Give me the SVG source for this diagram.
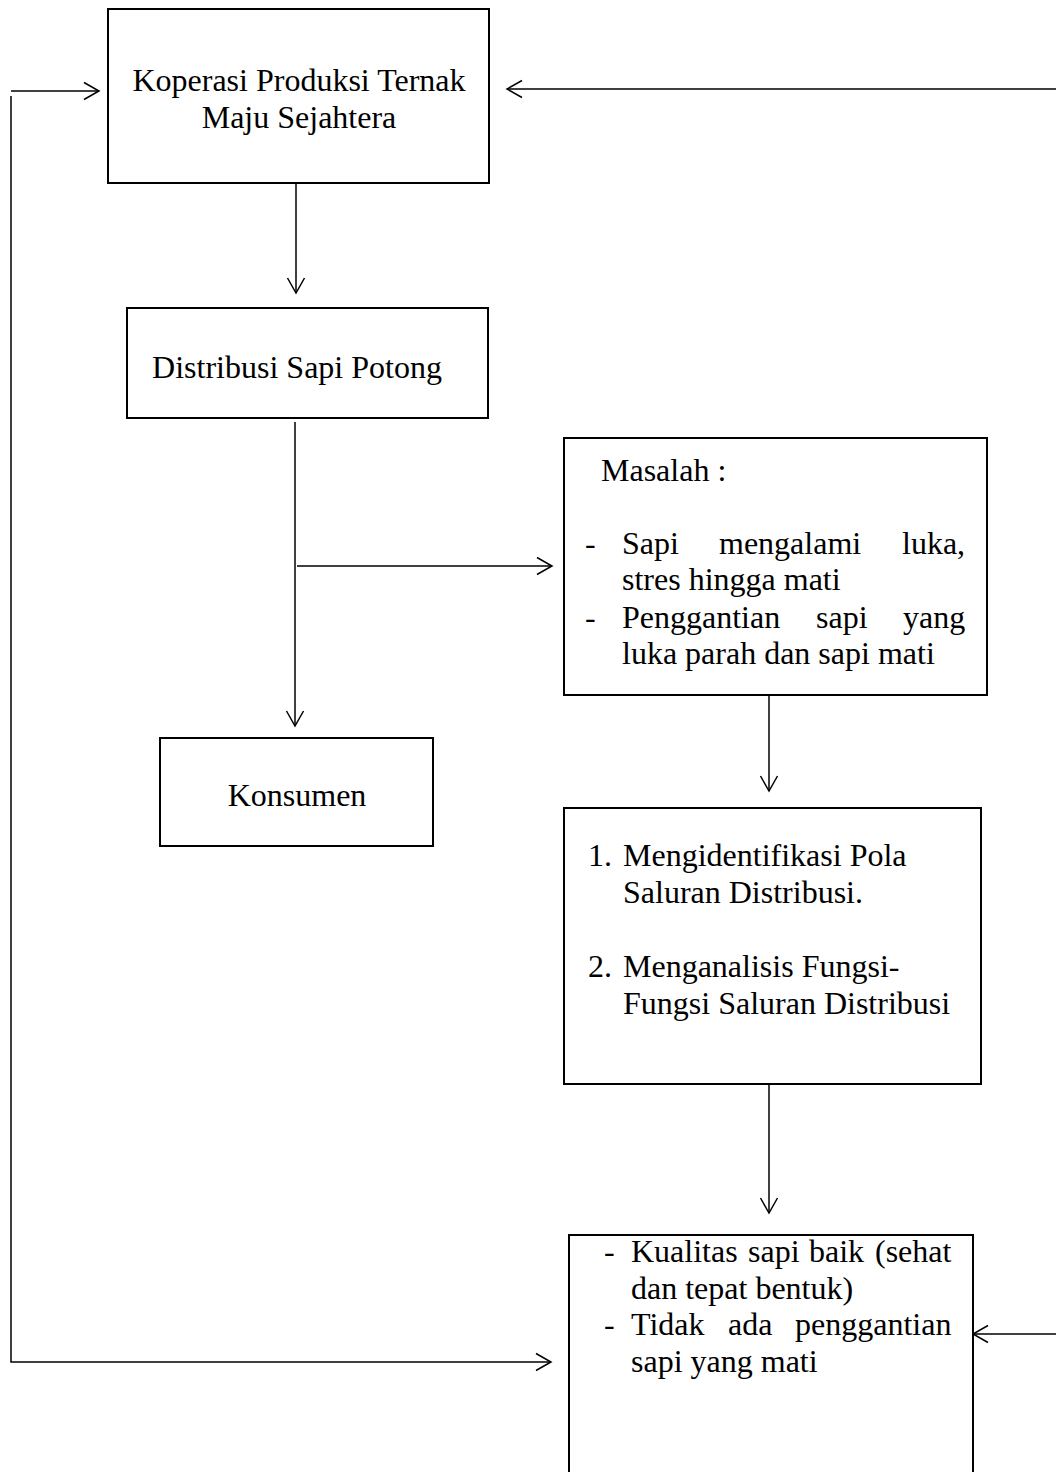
<svg xmlns="http://www.w3.org/2000/svg" width="1056" height="1472" viewBox="0 0 1056 1472">
<style>
.box{fill:#fff;stroke:#000;stroke-width:2}
.ln{fill:none;stroke:#000;stroke-width:1.5}
text{font-family:"Liberation Serif","Times New Roman",serif;font-size:32px;fill:#000}
.c{text-anchor:middle}
</style>
<defs>
<marker id="ah" markerUnits="userSpaceOnUse" markerWidth="20" markerHeight="22" refX="17" refY="10" orient="auto" viewBox="0 0 20 22">
<path d="M2,1.5 L17,10 L2,18.5" fill="none" stroke="#000" stroke-width="1.5"/>
</marker>
</defs>
<rect width="1056" height="1472" fill="#fff"/>
<g id="connectors">
<line class="ln" x1="296" y1="183" x2="296" y2="293" marker-end="url(#ah)"/>
<line class="ln" x1="295" y1="422" x2="295" y2="726" marker-end="url(#ah)"/>
<line class="ln" x1="297" y1="566" x2="552" y2="566" marker-end="url(#ah)"/>
<line class="ln" x1="769" y1="695" x2="769" y2="791" marker-end="url(#ah)"/>
<line class="ln" x1="769" y1="1084" x2="769" y2="1213" marker-end="url(#ah)"/>
<line class="ln" x1="11" y1="91" x2="99" y2="91" marker-end="url(#ah)"/>
<polyline class="ln" points="11,96 11,1362 551,1362" marker-end="url(#ah)"/>
<line class="ln" x1="1060" y1="89" x2="507" y2="89" marker-end="url(#ah)"/>
<line class="ln" x1="1060" y1="1334" x2="973" y2="1334" marker-end="url(#ah)"/>
</g>
<g id="node-koperasi">
<rect class="box" x="108" y="9" width="381" height="174"/>
<text class="c" x="299" y="91">Koperasi Produksi Ternak</text>
<text class="c" x="299" y="128">Maju Sejahtera</text>
</g>
<g id="node-distribusi">
<rect class="box" x="127" y="308" width="361" height="110"/>
<text class="c" x="297" y="378">Distribusi Sapi Potong</text>
</g>
<g id="node-konsumen">
<rect class="box" x="160" y="738" width="273" height="108"/>
<text class="c" x="297" y="806">Konsumen</text>
</g>
<g id="node-masalah">
<rect class="box" x="564" y="438" width="423" height="257"/>
<text x="601" y="481">Masalah :</text>
<text x="585" y="554">-</text>
<text y="554"><tspan x="622">Sapi</tspan><tspan x="719">mengalami</tspan><tspan x="902">luka,</tspan></text>
<text x="622" y="590">stres hingga mati</text>
<text x="585" y="628">-</text>
<text y="628"><tspan x="622">Penggantian</tspan><tspan x="816">sapi</tspan><tspan x="903">yang</tspan></text>
<text x="622" y="664">luka parah dan sapi mati</text>
</g>
<g id="node-tujuan">
<rect class="box" x="564" y="808" width="417" height="276"/>
<text x="588" y="866">1.</text>
<text x="623" y="866">Mengidentifikasi Pola</text>
<text x="623" y="903">Saluran Distribusi.</text>
<text x="588" y="977">2.</text>
<text x="623" y="977">Menganalisis Fungsi-</text>
<text x="623" y="1014">Fungsi Saluran Distribusi</text>
</g>
<g id="node-hasil">
<rect class="box" x="569" y="1235" width="404" height="260"/>
<text x="604" y="1262">-</text>
<text y="1262"><tspan x="631">Kualitas</tspan><tspan x="748">sapi</tspan><tspan x="809">baik</tspan><tspan x="875">(sehat</tspan></text>
<text x="631" y="1299">dan tepat bentuk)</text>
<text x="604" y="1335">-</text>
<text y="1335"><tspan x="631">Tidak</tspan><tspan x="728">ada</tspan><tspan x="795">penggantian</tspan></text>
<text x="631" y="1372">sapi yang mati</text>
</g>
</svg>
